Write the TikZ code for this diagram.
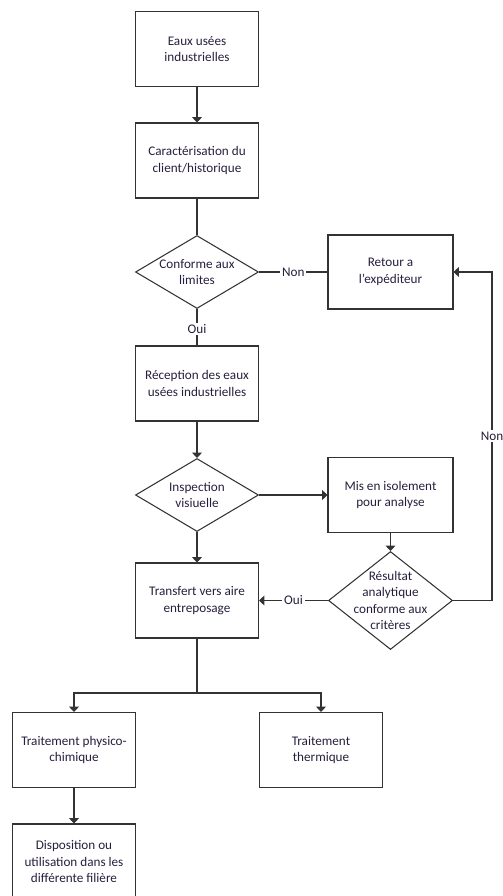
\documentclass[tikz,border=0pt]{standalone}
\usepackage{fontspec}
\setmainfont{Carlito}
\usetikzlibrary{positioning,shapes,arrows.meta,calc}
\definecolor{linegray}{RGB}{51,51,51}
\definecolor{textdark}{RGB}{40,30,60}

\begin{document}
\begin{tikzpicture}[node distance=2.23cm, >={Triangle[length=3pt,width=5.5pt]}, line width=0.6pt, draw=linegray]
    \tikzstyle{box} = [rectangle, minimum width=2.46cm, minimum height=1.5cm, align=center, draw=linegray, text=textdark, font=\fontsize{7.5}{9.4}\selectfont]
    \tikzstyle{decision} = [diamond, minimum width=2.46cm, minimum height=1.46cm, inner sep=0pt, draw=linegray]
    \tikzstyle{dtext} = [align=center, text=textdark, font=\fontsize{7.5}{9.4}\selectfont]
    \tikzstyle{answer} = [fill=white, inner sep=1pt, text=textdark, font=\fontsize{7.5}{9.4}\selectfont]

    \useasboundingbox (0,0) rectangle (10.04,-17.92);

    % Main column
    \node [box] (eaux) at (3.94,-0.98) {Eaux usées\\industrielles};
    \node [box, below of=eaux] (carac) {Caractérisation du\\client/historique};
    \node [decision, below of=carac, label={[dtext]center:Conforme aux\\limites}] (conf) {};
    \node [box, below of=conf] (recep) {Réception des eaux\\usées industrielles};
    \node [decision, below of=recep, label={[dtext]center:Inspection\\visiuelle}] (insp) {};
    \node [box, below of=insp, yshift=0.12cm] (transf) {Transfert vers aire\\entreposage};

    % Right column
    \node [box, right of=conf, xshift=1.64cm, minimum width=2.5cm, minimum height=1.48cm] (retour) {Retour a\\l’expéditeur};
    \node [box, right of=insp, xshift=1.64cm, minimum width=2.5cm] (isol) {Mis en isolement\\pour analyse};
    \node [decision, right of=transf, xshift=1.64cm, minimum width=2.48cm, minimum height=1.96cm, label={[dtext]center:Résultat\\analytique\\conforme aux\\critères}] (result) {};

    % Treatments
    \node [box, below of=transf, xshift=-2.46cm, yshift=-0.76cm] (physico) {Traitement physico-\\chimique};
    \node [box, below of=transf, xshift=2.48cm, yshift=-0.76cm] (thermique) {Traitement\\thermique};
    \node [box, below of=physico] (dispo) {Disposition ou\\utilisation dans les\\différente filière};

    % Arrows
    \draw [->] (eaux) -- (carac);
    \draw (carac) -- (conf);
    \draw (conf) -- node [answer] {Non} (retour);
    \draw (conf) -- node [answer, pos=0.55] {Oui} (recep);
    \draw [->] (recep) -- (insp);
    \draw [->] (insp) -- (isol);
    \draw [->] (insp) -- (transf);
    \draw [->] (isol) -- (result);
    \draw [->] (result) -- node [answer] {Oui} (transf);
    \draw [->] (result) -- ++(2.03,0) |- node [answer, pos=0.25] {Non} (retour);
    \draw (transf) -- ++(0,-1.85) coordinate (split);
    \draw [->] (split) -| (physico);
    \draw [->] (split) -| (thermique);
    \draw [->] (physico) -- (dispo);
\end{tikzpicture}
\end{document}
